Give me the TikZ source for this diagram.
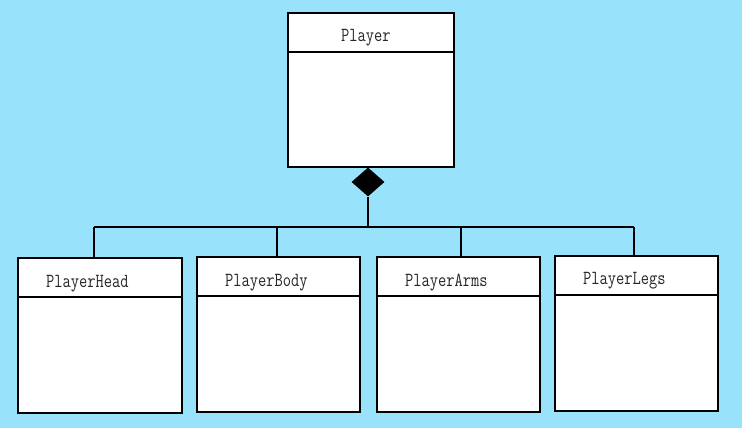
\documentclass[tikz,border=0pt]{standalone}
\usepackage{fontspec}
\usetikzlibrary{positioning, shapes}
\definecolor{skyback}{RGB}{152,226,251}
\tikzset{
	classbox/.style={rectangle, draw, black, fill=white, line width=1.2pt, minimum width=163pt, minimum height=155pt, inner sep=0pt},
	classname/.style={anchor=base west, font=\ttfamily\fontsize{16}{16}\selectfont, inner sep=0pt, yscale=1.25, transform shape, text=black!85},
	link/.style={line width=1.3pt}
}
\begin{document}
\begin{tikzpicture}[x=1pt,y=-1pt]
		
		%Background
		\fill[skyback] (0,0) rectangle (742,428);
		\useasboundingbox (0,0) rectangle (742,428);
		
		%Classes
		\node[classbox, minimum width=166pt, minimum height=154pt] (Player) at (371,90){};
		\node[classbox, minimum width=164pt] (Head) at (100,335.5){};
		\node[classbox] (Body) at (278.5,334.5){};
		\node[classbox] (Arms) at (458.5,334.5){};
		\node[classbox] (Legs) at (636.5,333.5){};
		
		%Dividers
		\foreach \c in {Player,Head,Body,Arms,Legs}
		\draw[link] ([yshift=-39.5pt]\c.north west) -- ([yshift=-39.5pt]\c.north east);
		
		%Names
		\node[classname] (PlayerName) at (341,42){Player};
		\node[classname] (HeadName) at (46,287){PlayerHead};
		\node[classname] (BodyName) at (225,286){PlayerBody};
		\node[classname] (ArmsName) at (405,286){PlayerArms};
		\node[classname] (LegsName) at (583,284){PlayerLegs};
		
		%Composition
		\node[diamond, fill=black, minimum width=33pt, minimum height=29pt, inner sep=0pt] (Diam) at (368,182){};
		\coordinate (Junc) at (368,227);
		\draw[link] (Diam.south) -- (Junc);
		\foreach \c/\x in {Head/94,Body/277,Arms/461,Legs/634}{
			\coordinate (j\c) at (\x,227);
			\draw[link] (j\c) -- (j\c |- \c.north);
		}
		\draw[link] (jHead) -- (jLegs);
		
\end{tikzpicture}
\end{document}
